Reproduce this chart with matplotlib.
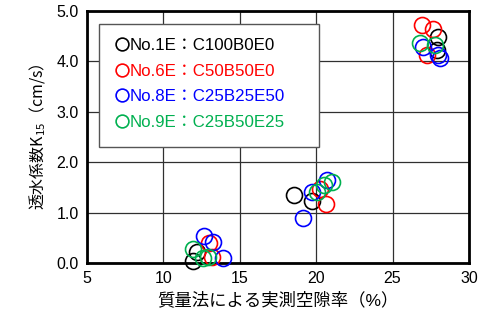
import matplotlib
matplotlib.use("Agg")
import matplotlib.pyplot as plt
from matplotlib.patches import Rectangle

plt.rcParams['font.family'] = ['Liberation Sans', 'Noto Sans CJK JP']
plt.rcParams['mathtext.fontset'] = 'custom'
plt.rcParams['mathtext.rm'] = 'Noto Sans CJK JP'
plt.rcParams['mathtext.it'] = 'Noto Sans CJK JP'

labels = ["No.1E：C100B0E0", "No.6E：C50B50E0", "No.8E：C25B25E50", "No.9E：C25B50E25"]
colors = ["#000000", "#FF0000", "#0000FF", "#00B050"]

x_no1 = [11.96, 12.18, 18.55, 19.70, 27.99, 27.89]
y_no1 = [0.03, 0.22, 1.35, 1.22, 4.49, 4.23]
x_no6 = [13.00, 13.16, 20.25, 20.62, 26.94, 27.67, 27.23]
y_no6 = [0.39, 0.11, 1.46, 1.17, 4.72, 4.64, 4.13]
x_no8 = [12.66, 13.23, 13.92, 19.16, 19.70, 20.69, 27.01, 27.99, 28.10]
y_no8 = [0.54, 0.42, 0.09, 0.89, 1.40, 1.65, 4.29, 4.13, 4.06]
x_no9 = [11.92, 12.61, 12.94, 20.03, 20.51, 21.01, 26.79, 27.78]
y_no9 = [0.27, 0.09, 0.11, 1.40, 1.55, 1.61, 4.36, 4.33]

xs = [x_no1, x_no6, x_no8, x_no9]
ys = [y_no1, y_no6, y_no8, y_no9]

fig = plt.figure(figsize=(4.78, 3.27), dpi=100)
ax = fig.add_axes([0.182, 0.196, 0.799, 0.770])

for x, y, c, lab in zip(xs, ys, colors, labels):
    ax.plot(x, y, linestyle="none", marker="o", markersize=11.5,
            markerfacecolor="none", markeredgecolor=c, markeredgewidth=1.2,
            label=lab, clip_on=False, zorder=3)

ax.set_xlim(5, 30)
ax.set_ylim(0, 5)
ax.set_xticks([5, 10, 15, 20, 25, 30])
ax.set_yticks([0, 1, 2, 3, 4, 5])
ax.set_yticklabels([f"{v:.1f}" for v in [0, 1, 2, 3, 4, 5]])
ax.tick_params(length=0, labelsize=11.5, pad=6)
ax.grid(True, color="#303030", linewidth=0.9)
ax.set_axisbelow(True)
for s in ax.spines.values():
    s.set_linewidth(2)

ax.set_xlabel("質量法による実測空隙率（%）", fontsize=12.5, labelpad=4)
ax.set_ylabel("透水係数K$_{15}$（cm/s）", fontsize=11.5, labelpad=6,
              family=["Noto Sans CJK JP"])

# legend box (drawn separately so it can be wider than the text)
box = Rectangle((0.031, 0.460), 0.576, 0.488, transform=ax.transAxes,
                facecolor="white", edgecolor="#555555", linewidth=1.0, zorder=4)
ax.add_patch(box)

leg = ax.legend(loc="upper left", bbox_to_anchor=(0.078, 0.893), fontsize=12.2,
                markerscale=0.8, handlelength=0.6, handletextpad=0.15,
                borderpad=0, labelspacing=0.62, borderaxespad=0,
                frameon=False)
leg.set_zorder(5)
for t, c in zip(leg.get_texts(), colors):
    t.set_color(c)

fig.savefig("out.png", dpi=100)
